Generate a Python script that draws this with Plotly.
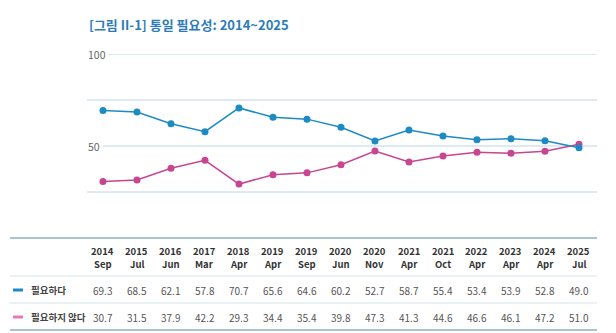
import plotly.graph_objects as go

years = ["2014", "2015", "2016", "2017", "2018", "2019", "2019", "2020", "2020",
         "2021", "2021", "2022", "2023", "2024", "2025"]
months = ["Sep", "Jul", "Jun", "Mar", "Apr", "Apr", "Sep", "Jun", "Nov",
          "Apr", "Oct", "Apr", "Apr", "Apr", "Jul"]
need = [69.3, 68.5, 62.1, 57.8, 70.7, 65.6, 64.6, 60.2, 52.7, 58.7, 55.4, 53.4, 53.9, 52.8, 49.0]
no_need = [30.7, 31.5, 37.9, 42.2, 29.3, 34.4, 35.4, 39.8, 47.3, 41.3, 44.6, 46.6, 46.1, 47.2, 51.0]
series_names = ["필요하다", "필요하지 않다"]
title_text = "[그림 II-1] 통일 필요성: 2014~2025"
y_labels = [50, 100]

W, H = 616, 333
BLUE = "#1c8bc5"
PINK = "#c8458f"
FONT = "Noto Sans CJK KR"

def px(x):
    return x / W

def py(y):
    return 1 - y / H

idx = list(range(len(years)))

fig = go.Figure()
fig.add_trace(go.Scatter(x=idx, y=no_need, mode="lines+markers", name=series_names[1],
                         line=dict(color=PINK, width=1.5), marker=dict(color=PINK, size=7)))
fig.add_trace(go.Scatter(x=idx, y=need, mode="lines+markers", name=series_names[0],
                         line=dict(color=BLUE, width=1.5), marker=dict(color=BLUE, size=7)))

shapes = []
grid_col = "#bcd6e3"
for val, x0 in [(25, 87), (50, 103), (75, 87), (100, 108)]:
    shapes.append(dict(type="line", xref="paper", yref="y", x0=px(x0), x1=px(597),
                       y0=val, y1=val, line=dict(color=grid_col, width=1.2), layer="below"))
thick = "#a7c5d5"
thin = "#d3e3ea"
for y, col, w in [(238, thick, 2), (276, thin, 1.2), (303, thin, 1.2), (330, thick, 2)]:
    shapes.append(dict(type="line", xref="paper", yref="paper", x0=px(10), x1=px(597),
                       y0=py(y), y1=py(y), line=dict(color=col, width=w)))
for y, col in [(290, BLUE), (317, "#e07ab4")]:
    shapes.append(dict(type="line", xref="paper", yref="paper", x0=px(13), x1=px(23),
                       y0=py(y), y1=py(y), line=dict(color=col, width=3)))

ann = []
ann.append(dict(text="<b>" + title_text + "</b>", xref="paper", yref="paper",
                x=px(87), y=py(24), xanchor="left", yanchor="middle", showarrow=False,
                font=dict(family=FONT, size=13, color="#2b7cb8")))
for v in y_labels:
    ann.append(dict(text=str(v), xref="paper", yref="y", x=px(86), y=v,
                    xanchor="left", yanchor="middle", showarrow=False,
                    font=dict(family=FONT, size=10.5, color="#666")))
for i in idx:
    ann.append(dict(text="<b>" + years[i] + "</b>", xref="x", yref="paper",
                    x=i, y=py(251), xanchor="center", yanchor="middle", showarrow=False,
                    font=dict(family=FONT, size=9.5, color="#333")))
    ann.append(dict(text="<b>" + months[i] + "</b>", xref="x", yref="paper",
                    x=i, y=py(264), xanchor="center", yanchor="middle", showarrow=False,
                    font=dict(family=FONT, size=9.5, color="#333")))
    ann.append(dict(text=f"{need[i]:.1f}", xref="x", yref="paper", x=i, y=py(290),
                    xanchor="center", yanchor="middle", showarrow=False,
                    font=dict(family=FONT, size=10, color="#555")))
    ann.append(dict(text=f"{no_need[i]:.1f}", xref="x", yref="paper", x=i, y=py(317),
                    xanchor="center", yanchor="middle", showarrow=False,
                    font=dict(family=FONT, size=10, color="#555")))
for name, y in [(series_names[0], 290), (series_names[1], 317)]:
    ann.append(dict(text="<b>" + name + "</b>", xref="paper", yref="paper", x=px(29), y=py(y),
                    xanchor="left", yanchor="middle", showarrow=False,
                    font=dict(family=FONT, size=9.5, color="#444")))

fig.update_layout(
    width=W, height=H, margin=dict(l=0, r=0, t=0, b=0),
    paper_bgcolor="white", plot_bgcolor="white",
    showlegend=False, shapes=shapes, annotations=ann,
    xaxis=dict(domain=[px(87), px(597)], range=[-0.47, 14.53], showgrid=False,
               showticklabels=False, zeroline=False, showline=False, fixedrange=True),
    yaxis=dict(domain=[py(238), py(54)], range=[0, 100], showgrid=False, zeroline=False,
               showticklabels=False, ticks="", fixedrange=True),
)

fig.write_html("out.html")
